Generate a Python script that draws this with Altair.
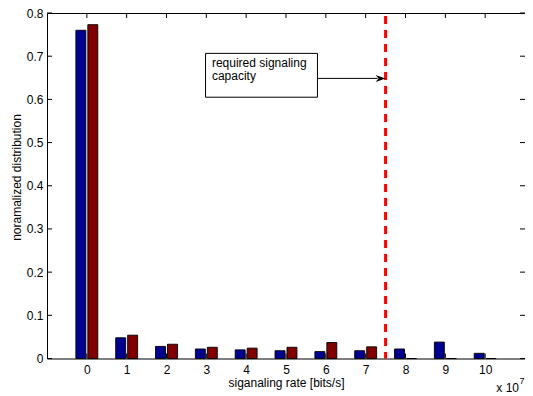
import altair as alt
import pandas as pd

# ---- data ----
categories = [0, 1, 2, 3, 4, 5, 6, 7, 8, 9, 10]
series_blue = [0.760, 0.048, 0.028, 0.022, 0.020, 0.018, 0.016, 0.018, 0.022, 0.038, 0.012]
series_red = [0.773, 0.054, 0.033, 0.026, 0.024, 0.026, 0.037, 0.027, 0.0, 0.0, 0.0]
capacity = 7.5
x_ticks = [0, 1, 2, 3, 4, 5, 6, 7, 8, 9, 10]
y_ticks = [0.0, 0.1, 0.2, 0.3, 0.4, 0.5, 0.6, 0.7, 0.8]
annotation_lines = ["required signaling", "capacity"]

PAD_L, PAD_T = 39, 5
W, H = 478, 345.5
PAD_R, PAD_B = 0, 37.5
FONT = "Liberation Sans"
BLUE, RED = "#00008F", "#800000"

xs = alt.Scale(domain=[-1, 11], nice=False, zero=False)
ys = alt.Scale(domain=[0, 0.8], nice=False, zero=True)

x_axis = alt.Axis(values=x_ticks, title="siganaling rate [bits/s]",
                  labelPadding=6, titleX=W / 2, titleY=28,
                  titleBaseline="alphabetic", titleAnchor="middle")
y_axis = alt.Axis(values=y_ticks, format=".1~f", title="noramalized distribution",
                  labelPadding=4, titleX=-31, titleY=164,
                  titleBaseline="middle", titleAngle=-90)

rows = []
for c, a, b in zip(categories, series_blue, series_red):
    rows.append({"cat": c, "series": "A", "value": a})
    rows.append({"cat": c, "series": "B", "value": b})
bars_df = pd.DataFrame(rows)

bars = alt.Chart(bars_df).transform_calculate(
    x0="datum.cat + (datum.series == 'A' ? -0.275 : 0.025)"
).transform_calculate(
    x1="datum.x0 + 0.25"
).mark_bar(stroke="black", strokeWidth=0.9).encode(
    x=alt.X("x0:Q", scale=xs, axis=x_axis),
    x2="x1:Q",
    y=alt.Y("value:Q", scale=ys, stack=None, axis=y_axis),
    y2=alt.datum(0),
    color=alt.Color("series:N", scale=alt.Scale(domain=["A", "B"], range=[BLUE, RED]), legend=None),
)

cap_df = pd.DataFrame({"cap": [capacity]})
dashed = alt.Chart(cap_df).mark_rule(color="#FF0000", strokeWidth=3, strokeDash=[8, 6],
                                     strokeDashOffset=11).encode(
    x=alt.X("cap:Q", scale=xs, axis=x_axis),
    y=alt.value(0), y2=alt.value(H),
)

# annotation box (data coordinates)
box_df = pd.DataFrame({"bx0": [2.98], "bx1": [5.79], "by0": [0.605], "by1": [0.7065]})
box = alt.Chart(box_df).mark_rect(fill="white", stroke="black", strokeWidth=1).encode(
    x=alt.X("bx0:Q", scale=xs, axis=x_axis), x2="bx1:Q",
    y=alt.Y("by0:Q", scale=ys, axis=y_axis), y2="by1:Q",
)

txt_df = pd.DataFrame({"tx": [3.14, 3.14], "ty": [0.675, 0.646], "t": annotation_lines})
txt = alt.Chart(txt_df).mark_text(align="left", baseline="alphabetic", font=FONT,
                                  fontSize=12, color="black").encode(
    x=alt.X("tx:Q", scale=xs, axis=x_axis),
    y=alt.Y("ty:Q", scale=ys, axis=y_axis),
    text="t:N",
)

arrow_df = pd.DataFrame({"ax0": [5.79], "ax1": [capacity - 0.2], "ay": [0.6486]})
arrow = alt.Chart(arrow_df).mark_rule(color="black", strokeWidth=1).encode(
    x=alt.X("ax0:Q", scale=xs, axis=x_axis), x2="ax1:Q",
    y=alt.Y("ay:Q", scale=ys, axis=y_axis),
)
head_df = pd.DataFrame({"hx": [capacity], "hy": [0.6486]})
head = alt.Chart(head_df).mark_point(
    shape="M0,0L-1,-0.35L-0.7,0L-1,0.35Z", filled=True, color="black", opacity=1, size=400
).encode(
    x=alt.X("hx:Q", scale=xs, axis=x_axis),
    y=alt.Y("hy:Q", scale=ys, axis=y_axis),
)

# inward tick marks (MATLAB style)
xt_df = pd.DataFrame({"t": x_ticks})
yt_df = pd.DataFrame({"t": y_ticks})
tick_style = dict(color="black", strokeWidth=1)
xt_bottom = alt.Chart(xt_df).mark_rule(**tick_style).encode(
    x=alt.X("t:Q", scale=xs, axis=x_axis), y=alt.value(H), y2=alt.value(H - 5))
xt_top = alt.Chart(xt_df).mark_rule(**tick_style).encode(
    x=alt.X("t:Q", scale=xs, axis=x_axis), y=alt.value(0), y2=alt.value(5))
yt_left = alt.Chart(yt_df).mark_rule(**tick_style).encode(
    y=alt.Y("t:Q", scale=ys, axis=y_axis), x=alt.value(0), x2=alt.value(5))
yt_right = alt.Chart(yt_df).mark_rule(**tick_style).encode(
    y=alt.Y("t:Q", scale=ys, axis=y_axis), x=alt.value(W), x2=alt.value(W - 5))

# exponent label
exp_main = alt.Chart(pd.DataFrame({"t": ["x 10"]})).mark_text(
    align="right", baseline="middle", font=FONT, fontSize=12, color="black").encode(
    x=alt.value(W - 6), y=alt.value(375), text="t:N")
exp_sup = alt.Chart(pd.DataFrame({"t": ["7"]})).mark_text(
    align="left", baseline="middle", font=FONT, fontSize=9, color="black").encode(
    x=alt.value(W - 5.5), y=alt.value(368), text="t:N")

chart = alt.layer(
    bars, dashed, box, txt, arrow, head,
    xt_bottom, xt_top, yt_left, yt_right, exp_main, exp_sup
).properties(
    width=W, height=H,
    autosize=alt.AutoSizeParams(type="none"),
    padding={"left": PAD_L, "top": PAD_T, "right": PAD_R, "bottom": PAD_B},
    background="white",
).configure_view(
    stroke="black", strokeWidth=1
).configure_axis(
    grid=False, domain=False, ticks=False, tickSize=0,
    labelFont=FONT, labelFontSize=12, labelColor="black",
    titleFont=FONT, titleFontSize=12, titleColor="black", titleFontWeight="normal",
)

chart.save("out.html", embed_options={"renderer": "svg", "actions": False})
